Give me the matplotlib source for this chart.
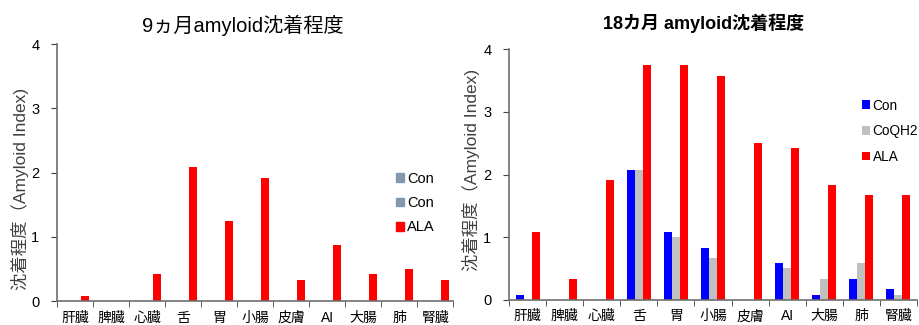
"""Amyloid deposition index per organ at 9 and 18 months, two grouped bar panels."""

import matplotlib

matplotlib.use("Agg")
import matplotlib.pyplot as plt
import numpy as np
from matplotlib.patches import Patch

plt.rcParams["font.family"] = ["Liberation Sans", "Noto Sans CJK JP", "DejaVu Sans"]

ORGANS = ["肝臓", "脾臓", "心臓", "舌", "胃", "小腸", "皮膚", "AI", "大腸", "肺", "腎臓"]

# 9 months
M9_CON_A = [0, 0, 0, 0, 0, 0, 0, 0, 0, 0, 0]
M9_CON_B = [0, 0, 0, 0, 0, 0, 0, 0, 0, 0, 0]
M9_ALA = [0.08, 0, 0.42, 2.08, 1.25, 1.92, 0.33, 0.87, 0.42, 0.50, 0.33]

# 18 months
M18_CON = [0.08, 0, 0, 2.08, 1.08, 0.83, 0, 0.58, 0.08, 0.33, 0.17]
M18_COQH2 = [0, 0, 0, 2.08, 1.00, 0.67, 0, 0.50, 0.33, 0.58, 0.08]
M18_ALA = [1.08, 0.33, 1.92, 3.75, 3.75, 3.58, 2.50, 2.42, 1.83, 1.67, 1.67]

AXIS_GRAY = "#6e6e6e"
YLABEL = "沈着程度（Amyloid Index)"


def style_axes(ax):
    n = len(ORGANS)
    ax.set_xlim(-0.5, n - 0.5)
    ax.set_ylim(0, 4)
    ax.set_yticks([0, 1, 2, 3, 4])
    ax.set_xticks(np.arange(n))
    ax.set_xticklabels(ORGANS, fontsize=10)
    ax.set_xticks(np.arange(n + 1) - 0.5, minor=True)
    ax.tick_params(axis="x", which="major", length=0, pad=7)
    ax.tick_params(axis="x", which="minor", length=4, direction="out", color="#404040")
    ax.tick_params(axis="y", length=4, direction="out", pad=9, labelsize=10.5, color="#404040")
    for side in ("top", "right"):
        ax.spines[side].set_visible(False)
    for side in ("left", "bottom"):
        ax.spines[side].set_color(AXIS_GRAY)
        ax.spines[side].set_linewidth(1.2)


def main():
    fig = plt.figure(figsize=(9.19, 3.25), dpi=100)
    x = np.arange(len(ORGANS))

    # left panel: 9 months
    ax1 = fig.add_axes([0.0624, 0.0738, 0.4309, 0.7908])
    w = 0.2
    ax1.bar(x - 0.27, M9_CON_A, w, color="#8497b0")
    ax1.bar(x, M9_CON_B, w, color="#8497b0")
    ax1.bar(x + 0.27, M9_ALA, w, color="#ff0000")
    style_axes(ax1)
    ax1.legend(
        handles=[Patch(color="#8497b0"), Patch(color="#8497b0"), Patch(color="#ff0000")],
        labels=["Con", "Con", "ALA"],
        loc="upper left", bbox_to_anchor=(0.84, 0.525), frameon=False, fontsize=10.5,
        handlelength=0.55, handleheight=0.55, handletextpad=0.2, labelspacing=0.7,
        borderaxespad=0,
    )
    fig.text(0.264, 0.923, "9ヵ月amyloid沈着程度", ha="center", va="center", fontsize=14.5)
    fig.text(0.022, 0.42, YLABEL, rotation=90, ha="center", va="center",
             fontsize=12.5, color="#404040")

    # right panel: 18 months
    ax2 = fig.add_axes([0.5542, 0.0778, 0.4433, 0.7705])
    w = 0.215
    ax2.bar(x - w, M18_CON, w, color="#0000ff", label="Con")
    ax2.bar(x, M18_COQH2, w, color="#c0c0c0", label="CoQH2")
    ax2.bar(x + w, M18_ALA, w, color="#ff0000", label="ALA")
    style_axes(ax2)
    ax2.legend(
        loc="upper left", bbox_to_anchor=(0.852, 0.825), frameon=False, fontsize=9.8,
        handlelength=0.6, handleheight=0.6, handletextpad=0.2, labelspacing=0.85,
        borderaxespad=0,
    )
    fig.text(0.766, 0.929, "18カ月 amyloid沈着程度", ha="center", va="center",
             fontsize=13, fontweight="bold")
    fig.text(0.5125, 0.477, YLABEL, rotation=90, ha="center", va="center",
             fontsize=12.5, color="#404040")

    fig.savefig("out.png", dpi=100)
    plt.close(fig)


if __name__ == "__main__":
    main()
